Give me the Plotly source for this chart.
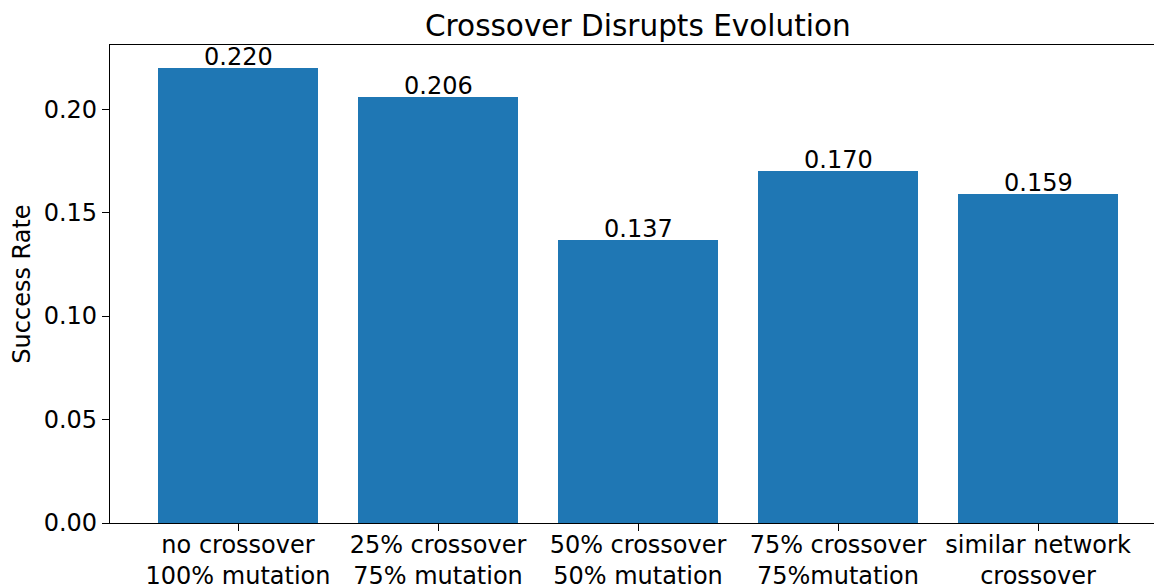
import plotly.graph_objects as go

categories = ["no crossover<br>100% mutation", "25% crossover<br>75% mutation",
              "50% crossover<br>50% mutation", "75% crossover<br>75%mutation",
              "similar network<br>crossover"]
values = [0.220, 0.206, 0.137, 0.170, 0.159]
labels = ["0.220", "0.206", "0.137", "0.170", "0.159"]
yticks = [0.00, 0.05, 0.10, 0.15, 0.20]

FONT = "DejaVu Sans"
FS = 24
xpos = list(range(len(categories)))

fig = go.Figure()
fig.add_trace(go.Bar(x=xpos, y=values, width=0.8, marker=dict(color="#1f77b4", line=dict(width=0)),
                     showlegend=False, hoverinfo="skip"))

for xi, v, t in zip(xpos, values, labels):
    fig.add_annotation(x=xi, y=v, text=t, showarrow=False, yanchor="bottom",
                       xanchor="center", yshift=-5, font=dict(family=FONT, size=FS, color="black"))

fig.add_annotation(text="Crossover Disrupts Evolution", xref="paper", yref="paper",
                   x=(638 - 110) / 1044, y=1, yanchor="bottom", xanchor="center", yshift=0,
                   showarrow=False, font=dict(family=FONT, size=29.5, color="black"))

fig.update_layout(
    width=1154, height=586,
    margin=dict(l=110, r=0, t=45, b=63, autoexpand=False),
    plot_bgcolor="white", paper_bgcolor="white",
    font=dict(family=FONT, size=FS, color="black"),
    bargap=0,
)
fig.update_xaxes(range=[-0.64, 4.58], tickmode="array", tickvals=xpos, ticktext=categories,
                 showline=True, linecolor="black", linewidth=1.2, mirror=True,
                 ticks="outside", ticklen=7, tickcolor="black", tickwidth=1.2,
                 showgrid=False, zeroline=False, tickfont=dict(family=FONT, size=FS),
                 automargin=False, ticklabelstandoff=-7)
fig.update_yaxes(range=[0, 0.231], tickmode="array", tickvals=yticks,
                 ticktext=[f"{t:.2f}" for t in yticks],
                 showline=True, linecolor="black", linewidth=1.2, mirror=False,
                 ticks="outside", ticklen=7, tickcolor="black", tickwidth=1.2,
                 showgrid=False, zeroline=False, tickfont=dict(family=FONT, size=FS),
                 automargin=False,
                 title=dict(text="Success Rate", font=dict(family=FONT, size=FS), standoff=6))

fig.write_html("out.html", config={"displayModeBar": False},
               post_script="document.body.style.margin='0';")
